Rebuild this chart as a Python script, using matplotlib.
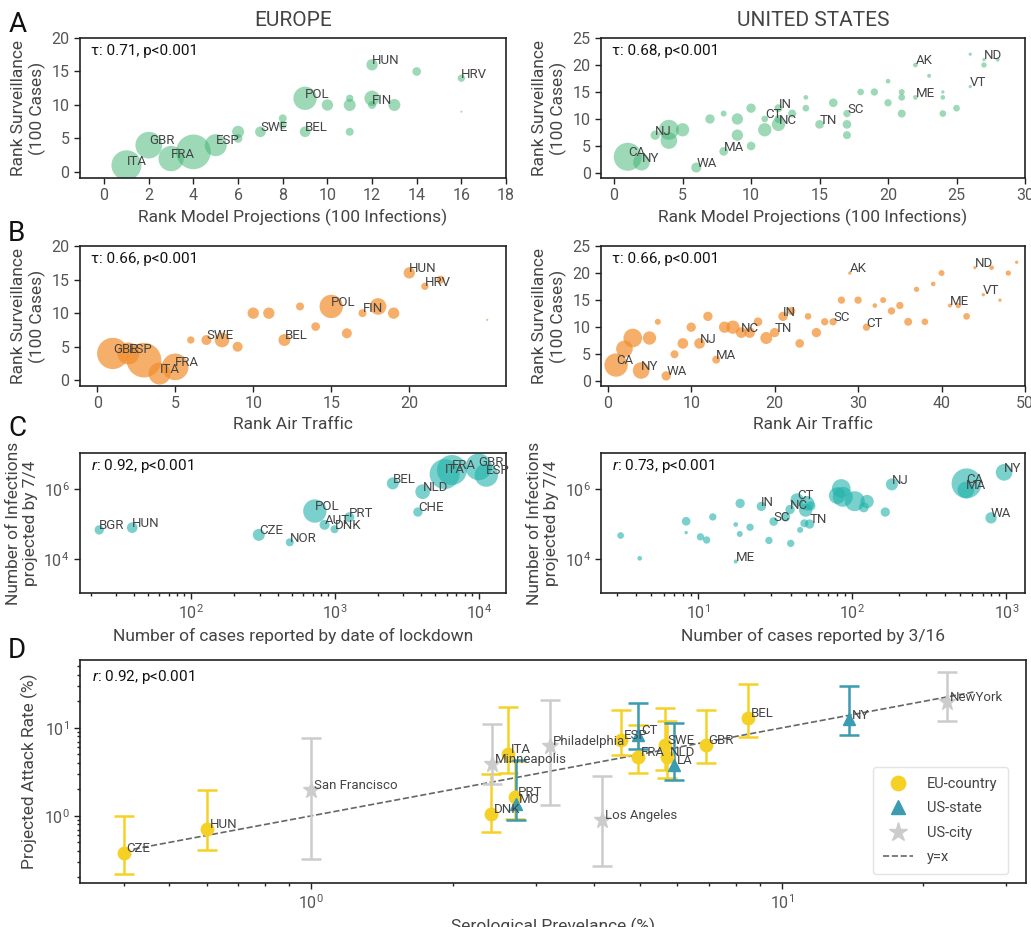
import numpy as np
import matplotlib
matplotlib.use('Agg')
import matplotlib.pyplot as plt
from matplotlib.lines import Line2D
from matplotlib.ticker import NullLocator

plt.rcParams['font.family'] = ['Roboto', 'DejaVu Sans']
plt.rcParams['mathtext.fontset'] = 'custom'
plt.rcParams['mathtext.rm'] = 'Roboto'
plt.rcParams['mathtext.it'] = 'Roboto:italic'
plt.rcParams['axes.edgecolor'] = '#222222'
plt.rcParams['axes.linewidth'] = 1.2
plt.rcParams['xtick.color'] = '#222222'
plt.rcParams['ytick.color'] = '#222222'
plt.rcParams['xtick.labelcolor'] = '#555555'
plt.rcParams['ytick.labelcolor'] = '#555555'
plt.rcParams['axes.labelcolor'] = '#444444'
plt.rcParams['xtick.labelsize'] = 11.5
plt.rcParams['ytick.labelsize'] = 11.5
plt.rcParams['axes.labelsize'] = 12.5

# ---- panel A : rank model projections vs rank surveillance
eu_a_x = [1, 2, 3, 4, 5, 6, 6, 7, 8, 8, 9, 9, 10, 11, 11, 11, 12, 12, 12, 13, 14, 16, 16]
eu_a_y = [1, 4, 2, 3, 4, 6, 5, 6, 8, 7, 11, 6, 10, 11, 10, 6, 16, 11, 10, 10, 15, 14, 9]
eu_a_w = [45, 40, 38, 52, 33, 18, 13, 16, 12, 12, 35, 16, 17, 11, 18, 12, 17, 23, 12, 18, 13, 11, 3]
eu_a_lab = ['ITA', 'GBR', 'FRA', '', 'ESP', '', '', 'SWE', '', '', 'POL', 'BEL', '', '', '', '',
            'HUN', '', 'FIN', '', '', 'HRV', '']

us_a_x = [1, 2, 3, 4, 4, 5, 6, 7, 8, 8, 9, 9, 10, 10, 11, 11, 12, 12, 12, 13, 14, 14, 15, 16, 17,
          17, 17, 18, 19, 20, 20, 21, 21, 21, 22, 22, 23, 24, 24, 24, 25, 26, 26, 27, 27, 28]
us_a_y = [3, 2, 7, 8, 6, 8, 1, 10, 11, 4, 10, 7, 12, 5, 10, 8, 12, 10, 9, 11, 14, 12, 9, 13, 11,
          9, 7, 15, 15, 17, 13, 15, 14, 11, 20, 14, 18, 15, 14, 11, 12, 22, 16, 20, 21, 21]
us_a_w = [42, 25, 14, 30, 25, 20, 15, 14, 9, 13, 17, 17, 14, 13, 10, 20, 12, 12, 20, 12, 7, 10, 13, 13, 11,
          13, 12, 10, 11, 7, 11, 9, 10, 12, 7, 7, 6, 5, 7, 10, 10, 5, 5, 8, 5, 6]
us_a_lab = ['CA', 'NY', 'NJ', '', '', '', 'WA', '', '', 'MA', '', '', '', '', 'CT', '', 'IN', '', 'NC', '',
            '', '', 'TN', '', 'SC', '', '', '', '', '', '', '', '', '', 'AK', 'ME', '', '', '', '',
            '', '', 'VT', '', 'ND', '']

# ---- panel B : rank air traffic vs rank surveillance
eu_b_x = [1, 2, 3, 4, 5, 6, 7, 8, 9, 10, 11, 12, 13, 14, 15, 16, 17, 18, 19, 20, 21, 22, 25]
eu_b_y = [4, 4, 3, 1, 2, 6, 6, 6, 5, 10, 10, 6, 11, 8, 11, 7, 10, 11, 10, 16, 14, 15, 9]
eu_b_w = [47, 33, 52, 33, 40, 11, 15, 22, 15, 17, 17, 18, 12, 13, 35, 15, 12, 25, 17, 17, 11, 12, 3]
eu_b_lab = ['GBR', 'ESP', '', 'ITA', 'FRA', '', 'SWE', '', '', '', '', 'BEL', '', '', 'POL', '',
            'FIN', '', '', 'HUN', 'HRV', '', '']

us_b_x = list(range(1, 50))
us_b_y = [3, 6, 8, 2, 8, 11, 1, 5, 7, 10, 7, 12, 4, 10, 10, 9, 9, 11, 8, 9, 12, 13, 7, 12, 9,
          11, 11, 15, 20, 15, 10, 14, 15, 13, 14, 11, 17, 11, 18, 20, 14, 14, 12, 21, 16, 21, 15, 20, 22]
us_b_w = [35, 25, 28, 25, 20, 9, 14, 12, 16, 14, 16, 14, 12, 17, 20, 16, 16, 13, 18, 14, 14, 12, 13, 10, 14,
          11, 11, 11, 5, 11, 11, 7, 9, 11, 11, 12, 8, 10, 7, 9, 6, 8, 10, 5, 5, 7, 5, 8, 5]
us_b_lab = ['CA', '', '', 'NY', '', '', 'WA', '', '', '', 'NJ', '', 'MA', '', '', 'NC', '', '', '', 'TN',
            'IN', '', '', '', '', '', 'SC', '', 'AK', '', 'CT', '', '', '', '', '', '', '', '', '',
            'ME', '', '', 'ND', 'VT', '', '', '', '']

# ---- panel C : reported cases vs projected infections
eu_c_x = [23, 39, 296, 486, 726, 848, 995, 1260, 2530, 4080, 3780, 5800, 6520, 10000, 11300]
eu_c_y = [6.8e4, 7.9e4, 4.9e4, 3.0e4, 2.35e5, 9.5e4, 7.1e4, 1.56e5, 1.45e6, 8.4e5, 2.2e5,
          2.68e6, 3.5e6, 4.3e6, 2.5e6]
eu_c_w = [14, 16, 18, 12, 35, 15, 12, 15, 18, 22, 14, 45, 45, 40, 35]
eu_c_lab = ['BGR', 'HUN', 'CZE', 'NOR', 'POL', 'AUT', 'DNK', 'PRT', 'BEL', 'NLD', 'CHE',
            'ITA', 'FRA', 'GBR', 'ESP']

us_c_x = [3.16, 4.2, 8.4, 8.4, 10.4, 11.4, 12.5, 17.6, 17.6, 18.7, 18.8, 21.8, 25.8, 28.9, 31, 37,
          40, 39.6, 44, 46, 49, 50, 51, 53, 54, 80, 85, 87, 104, 119, 125, 164, 181, 552, 546, 795, 966]
us_c_y = [4.7e4, 1.05e4, 1.2e5, 5.7e4, 4.3e4, 3.5e4, 1.6e5, 9.7e4, 8.5e3, 5.2e4, 3.9e5, 8.1e4,
          3.2e5, 3.4e4, 1.18e5, 1.6e5, 2.8e4, 2.6e5, 4.9e5, 6.8e4, 1.05e5, 2.5e5, 3.9e5, 1e5, 3.3e5,
          6.5e5, 1.04e6, 6e5, 4.5e5, 3e5, 4.4e5, 2.2e5, 1.36e6, 1.45e6, 9.4e5, 1.5e5, 3e6]
us_c_w = [10, 7, 13, 5, 11, 11, 11, 7, 6, 9, 14, 11, 14, 11, 13, 14, 11, 14, 20, 9, 12, 20, 22, 14, 14,
          25, 28, 30, 30, 15, 20, 14, 18, 45, 25, 17, 25]
us_c_lab = ['', '', '', '', '', '', '', '', 'ME', '', '', '', 'IN', '', 'SC', '', '', 'NC', 'CT', '',
            '', '', '', 'TN', '', '', '', '', '', '', '', '', 'NJ', 'CA', 'MA', 'WA', 'NY']

# ---- panel D : serological prevalence vs projected attack rate
eu_d_lab = ['CZE', 'HUN', 'DNK', 'ITA', 'PRT', 'ESP', 'FRA', 'SWE', 'NLD', 'GBR', 'BEL']
eu_d_sero = [0.4, 0.6, 2.41, 2.62, 2.71, 4.55, 4.95, 5.65, 5.7, 6.9, 8.47]
eu_d_rate = [0.38, 0.71, 1.05, 5.07, 1.64, 7.3, 4.7, 6.4, 4.7, 6.4, 13.0]
eu_d_lo = [0.22, 0.41, 0.66, 3.1, 0.92, 4.9, 3.1, 3.33, 2.7, 4.0, 7.9]
eu_d_hi = [1.0, 1.97, 3.0, 17.3, 4.2, 16.0, 10.8, 16.9, 12.0, 16.0, 31.6]

st_d_lab = ['MO', 'CT', 'LA', 'NY']
st_d_sero = [2.73, 4.95, 5.9, 13.9]
st_d_rate = [1.37, 8.3, 3.8, 12.5]
st_d_lo = [0.9, 5.8, 2.56, 8.3]
st_d_hi = [4.3, 19.2, 11.4, 30.0]

ct_d_lab = ['San Francisco', 'Minneapolis', 'Philadelphia', 'Los Angeles', 'NewYork']
ct_d_sero = [1.0, 2.42, 3.22, 4.15, 22.4]
ct_d_rate = [1.97, 3.9, 6.2, 0.9, 19.7]
ct_d_lo = [0.32, 2.3, 1.33, 0.27, 12.0]
ct_d_hi = [7.7, 11.1, 20.8, 2.85, 43.6]

diag_range = [0.42, 25.7]

GREEN = 'mediumseagreen'
ORANGE = '#f28e2b'
TEAL = 'lightseagreen'
YELLOW = '#f6d125'
BLUE = '#3a9bb1'
GREY = '#cccccc'


def bubbles(ax, x, y, w, names, color, alpha):
    ax.scatter(x, y, s=(0.48 * np.asarray(w, dtype=float)) ** 2, color=color,
               alpha=alpha, linewidths=0, zorder=2)
    for xi, yi, name in zip(x, y, names):
        if name:
            ax.annotate(name, (xi, yi), xytext=(0, 3), textcoords='offset points',
                        ha='left', va='center', fontsize=9.5, color='#444444', zorder=3)


def stat(ax, text, x=0.025, y=0.91):
    ax.text(x, y, text, transform=ax.transAxes, fontsize=11, color='#111111', va='center')


def style(ax):
    ax.tick_params(which='both', direction='out', length=4, width=1)
    ax.tick_params(which='minor', length=2.5)


fig = plt.figure(figsize=(10.31, 9.27), dpi=100)

L = [0.0776, 0.4132]
R = [0.583, 0.4112]
rows = [0.808, 0.5836, 0.3603]
h = 0.151

# A
ax = fig.add_axes([L[0], rows[0], L[1], h])
bubbles(ax, eu_a_x, eu_a_y, eu_a_w, eu_a_lab, GREEN, 0.5)
ax.set_xlim(-1.08, 18)
ax.set_ylim(-0.9, 20)
ax.set_xticks(range(0, 19, 2))
ax.set_yticks(range(0, 21, 5))
ax.set_xlabel('Rank Model Projections (100 Infections)')
ax.set_ylabel('Rank Surveillance\n(100 Cases)')
stat(ax, 'τ: 0.71, p<0.001')
style(ax)

ax = fig.add_axes([R[0], rows[0], R[1], h])
bubbles(ax, us_a_x, us_a_y, us_a_w, us_a_lab, GREEN, 0.5)
ax.set_xlim(-0.95, 30)
ax.set_ylim(-0.93, 25)
ax.set_xticks(range(0, 31, 5))
ax.set_yticks(range(0, 26, 5))
ax.set_xlabel('Rank Model Projections (100 Infections)')
ax.set_ylabel('Rank Surveillance\n(100 Cases)')
stat(ax, 'τ: 0.68, p<0.001')
style(ax)

# B
ax = fig.add_axes([L[0], rows[1], L[1], h])
bubbles(ax, eu_b_x, eu_b_y, eu_b_w, eu_b_lab, ORANGE, 0.7)
ax.set_xlim(-1.1, 26.2)
ax.set_ylim(-0.85, 20)
ax.set_xticks(range(0, 21, 5))
ax.set_yticks(range(0, 21, 5))
ax.set_xlabel('Rank Air Traffic')
ax.set_ylabel('Rank Surveillance\n(100 Cases)')
stat(ax, 'τ: 0.66, p<0.001')
style(ax)

ax = fig.add_axes([R[0], rows[1], R[1], h])
bubbles(ax, us_b_x, us_b_y, us_b_w, us_b_lab, ORANGE, 0.7)
ax.set_xlim(-0.8, 50)
ax.set_ylim(-0.87, 25)
ax.set_xticks(range(0, 51, 10))
ax.set_yticks(range(0, 26, 5))
ax.set_xlabel('Rank Air Traffic')
ax.set_ylabel('Rank Surveillance\n(100 Cases)')
stat(ax, 'τ: 0.66, p<0.001')
style(ax)

# C
ax = fig.add_axes([L[0], rows[2], L[1], h])
bubbles(ax, eu_c_x, eu_c_y, eu_c_w, eu_c_lab, TEAL, 0.6)
ax.set_xscale('log')
ax.set_yscale('log')
ax.set_xlim(16.9, 15500)
ax.set_ylim(1.07e3, 1.07e7)
ax.set_yticks([1e4, 1e6])
ax.yaxis.set_minor_locator(NullLocator())
ax.set_xlabel('Number of cases reported by date of lockdown')
ax.set_ylabel('Number of Infections\nprojected by 7/4')
stat(ax, '$r$: 0.92, p<0.001')
style(ax)

ax = fig.add_axes([R[0], rows[2], R[1], h])
bubbles(ax, us_c_x, us_c_y, us_c_w, us_c_lab, TEAL, 0.6)
ax.set_xscale('log')
ax.set_yscale('log')
ax.set_xlim(2.36, 1320)
ax.set_ylim(1.07e3, 1.07e7)
ax.set_yticks([1e4, 1e6])
ax.yaxis.set_minor_locator(NullLocator())
ax.set_xlabel('Number of cases reported by 3/16')
ax.set_ylabel('Number of Infections\nprojected by 7/4')
stat(ax, '$r$: 0.73, p<0.001')
style(ax)

# D
ax = fig.add_axes([0.0776, 0.0475, 0.9174, 0.2405])
groups = [
    (eu_d_sero, eu_d_rate, eu_d_lo, eu_d_hi, eu_d_lab, YELLOW, 'o', 9, 'EU-country'),
    (st_d_sero, st_d_rate, st_d_lo, st_d_hi, st_d_lab, BLUE, '^', 9, 'US-state'),
    (ct_d_sero, ct_d_rate, ct_d_lo, ct_d_hi, ct_d_lab, GREY, '*', 12, 'US-city'),
]
handles = []
for sx, sy, lo, hi, labs, col, mk, ms, name in groups:
    sx = np.asarray(sx)
    sy = np.asarray(sy)
    err = [sy - np.asarray(lo), np.asarray(hi) - sy]
    ax.errorbar(sx, sy, yerr=err, fmt='none', ecolor=col, elinewidth=1.8,
                capsize=7, capthick=1.8, zorder=2)
    ax.plot(sx, sy, ls='', marker=mk, ms=ms, color=col, zorder=3)
    for xi, yi, t in zip(sx, sy, labs):
        ax.annotate(t, (xi, yi), xytext=(2, 3), textcoords='offset points',
                    ha='left', va='center', fontsize=9.5, color='#444444', zorder=4)
    handles.append(Line2D([], [], ls='', marker=mk, ms=ms * 1.15, color=col, label=name))

ax.plot(diag_range, diag_range, ls='--', color='#666666', lw=1.2, zorder=1)
handles.append(Line2D([], [], ls='--', color='#666666', lw=1.2, label='y=x'))
ax.set_xscale('log')
ax.set_yscale('log')
ax.set_xlim(0.323, 33)
ax.set_ylim(0.173, 59)
ax.set_xlabel('Serological Prevelance (%)')
ax.set_ylabel('Projected Attack Rate (%)')
stat(ax, '$r$: 0.92, p<0.001', x=0.013, y=0.924)
style(ax)
leg = ax.legend(handles=handles, loc='lower right', bbox_to_anchor=(0.981, 0.04),
                borderaxespad=0, fontsize=10.5, frameon=True, edgecolor='#dddddd',
                borderpad=0.7, labelspacing=0.7, handletextpad=1.0)
for t in leg.get_texts():
    t.set_color('#444444')

# titles and panel letters
fig.text(L[0] + L[1] / 2, 0.978, 'EUROPE', ha='center', va='center', fontsize=15, color='#444444')
fig.text(R[0] + R[1] / 2, 0.978, 'UNITED STATES', ha='center', va='center', fontsize=15, color='#444444')
for letter, ytop in zip('ABCD', [0.988, 0.763, 0.552, 0.313]):
    fig.text(0.008, ytop, letter, ha='left', va='top', fontsize=20, color='#111111')

fig.savefig('out.png', dpi=100)
